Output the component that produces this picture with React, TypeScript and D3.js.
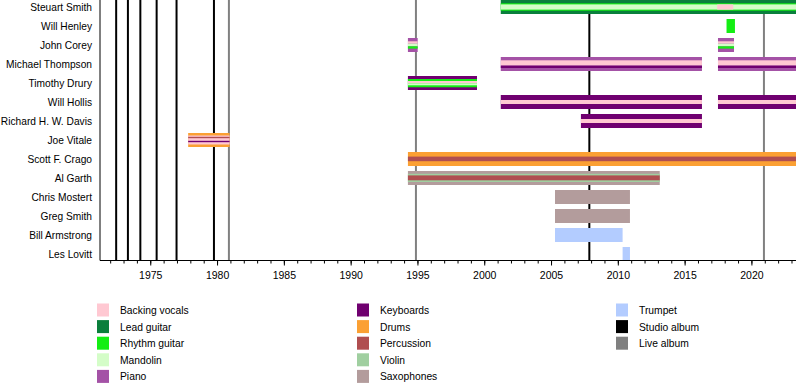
import React from "react";
import * as d3 from "d3";

// Band members, top to bottom
const members = [
  "Steuart Smith",
  "Will Henley",
  "John Corey",
  "Michael Thompson",
  "Timothy Drury",
  "Will Hollis",
  "Richard H. W. Davis",
  "Joe Vitale",
  "Scott F. Crago",
  "Al Garth",
  "Chris Mostert",
  "Greg Smith",
  "Bill Armstrong",
  "Les Lovitt",
];

const START = 1971.2;
const END = 2023.3;

// Touring periods (decimal years) and the roles played in each
const periods = [
  { name: "Steuart Smith", from: 2001.2, to: END, roles: ["Lead guitar", "Rhythm guitar", "Mandolin"] },
  { name: "Steuart Smith", from: 2017.4, to: 2018.6, roles: ["Backing vocals"] },
  { name: "Will Henley", from: 2018.1, to: 2018.73, roles: ["Rhythm guitar"] },
  { name: "John Corey", from: 1994.25, to: 1994.98, roles: ["Piano", "Backing vocals", "Mandolin", "Rhythm guitar"] },
  { name: "John Corey", from: 2017.46, to: 2018.66, roles: ["Piano", "Backing vocals", "Mandolin", "Rhythm guitar"] },
  { name: "Michael Thompson", from: 2001.2, to: 2016.26, roles: ["Piano", "Backing vocals", "Keyboards"] },
  { name: "Michael Thompson", from: 2017.46, to: END, roles: ["Piano", "Backing vocals", "Keyboards"] },
  { name: "Timothy Drury", from: 1994.25, to: 1999.42, roles: ["Keyboards", "Rhythm guitar", "Backing vocals", "Mandolin"] },
  { name: "Will Hollis", from: 2001.2, to: 2016.26, roles: ["Keyboards", "Backing vocals"] },
  { name: "Will Hollis", from: 2017.46, to: END, roles: ["Keyboards", "Backing vocals"] },
  { name: "Richard H. W. Davis", from: 2007.2, to: 2016.26, roles: ["Keyboards", "Backing vocals"] },
  { name: "Joe Vitale", from: 1977.8, to: 1980.9, roles: ["Drums", "Backing vocals", "Percussion", "Keyboards"] },
  { name: "Scott F. Crago", from: 1994.25, to: END, roles: ["Drums", "Percussion"] },
  { name: "Al Garth", from: 1994.25, to: 2013.1, roles: ["Saxophones", "Violin", "Percussion"] },
  { name: "Chris Mostert", from: 2005.26, to: 2010.87, roles: ["Saxophones"] },
  { name: "Greg Smith", from: 2005.26, to: 2010.87, roles: ["Saxophones"] },
  { name: "Bill Armstrong", from: 2005.26, to: 2010.32, roles: ["Trumpet"] },
  { name: "Les Lovitt", from: 2010.32, to: 2010.87, roles: ["Trumpet"] },
];

const studioAlbums = [1972.41, 1973.29, 1974.22, 1975.44, 1976.93, 1979.73, 2007.83];
const liveAlbums = [1980.85, 1994.85, 2020.9];

const majorTicks = [1975, 1980, 1985, 1990, 1995, 2000, 2005, 2010, 2015, 2020];
const minorTicks = d3.range(1972, 2024);

const legendItems = [
  "Backing vocals",
  "Lead guitar",
  "Rhythm guitar",
  "Mandolin",
  "Piano",
  "Keyboards",
  "Drums",
  "Percussion",
  "Violin",
  "Saxophones",
  "Trumpet",
  "Studio album",
  "Live album",
];

const colors: Record<string, string> = {
  "Backing vocals": "#ffc8d2",
  "Lead guitar": "#0a7f3c",
  "Rhythm guitar": "#14ee14",
  Mandolin: "#d4fdc8",
  Piano: "#a452a6",
  Keyboards: "#700070",
  Drums: "#fba033",
  Percussion: "#b04e50",
  Violin: "#a0cfa0",
  Saxophones: "#b39c9c",
  Trumpet: "#b3ccff",
  "Studio album": "#000000",
  "Live album": "#808080",
};

// stripe bands (px from row centre) for each role, per member
const layers: Record<string, [string, number, number][]> = {
  "Steuart Smith": [["Lead guitar", -7, 7], ["Rhythm guitar", -3.7, 3.7], ["Mandolin", -2.6, 2.6], ["Backing vocals", -2.6, 2.6]],
  "Will Henley": [["Rhythm guitar", -7, 7]],
  "John Corey": [["Piano", -7, 7], ["Backing vocals", -3.7, -1.4], ["Mandolin", -1.4, 1.3], ["Rhythm guitar", 1.3, 3.6]],
  "Michael Thompson": [["Piano", -7, 7], ["Backing vocals", -3.7, 1.6], ["Keyboards", 1.6, 4]],
  "Timothy Drury": [["Keyboards", -7, 7], ["Rhythm guitar", -4, 4.3], ["Backing vocals", -2, 0.3], ["Mandolin", 0.3, 2.3]],
  "Will Hollis": [["Keyboards", -7, 7], ["Backing vocals", -2, 2]],
  "Richard H. W. Davis": [["Keyboards", -7, 7], ["Backing vocals", -2, 2]],
  "Joe Vitale": [["Drums", -7, 7], ["Backing vocals", -4.5, 4.5], ["Percussion", -3.2, -1.8], ["Keyboards", 0.8, 2.2]],
  "Scott F. Crago": [["Drums", -7, 7], ["Percussion", -2.4, 2.2]],
  "Al Garth": [["Saxophones", -7, 7], ["Violin", -4.2, 4], ["Percussion", -2.6, 2.3]],
  "Chris Mostert": [["Saxophones", -7, 7]],
  "Greg Smith": [["Saxophones", -7, 7]],
  "Bill Armstrong": [["Trumpet", -7, 7]],
  "Les Lovitt": [["Trumpet", -7, 7]],
};

const width = 800;
const height = 385;
const left = 100;
const right = 796;
const axisY = 260.5;
const font = "'Liberation Sans', Arial, Helvetica, sans-serif";

const App: React.FC = () => {
  const x = d3.scaleLinear().domain([START, END]).range([left, right]);
  const y = d3.scalePoint<string>().domain(members).range([7, 254]);

  return (
    <svg
      width={width}
      height={height}
      style={{ position: "absolute", left: 0, top: 0, background: "#fff" }}
      fontFamily={font}
    >
      {/* album lines (behind bars) */}
      {studioAlbums.map((d, i) => (
        <line key={"s" + i} x1={x(d)} x2={x(d)} y1={0} y2={axisY} stroke={colors["Studio album"]} strokeWidth={2} />
      ))}
      {liveAlbums.map((d, i) => (
        <line key={"l" + i} x1={x(d)} x2={x(d)} y1={0} y2={axisY} stroke={colors["Live album"]} strokeWidth={2} />
      ))}

      {/* member bars */}
      {periods.map((p, i) => {
        const cy = y(p.name) ?? 0;
        return (
          <g key={"p" + i}>
            {layers[p.name]
              .filter(([role]) => p.roles.includes(role))
              .map(([role, y0, y1]) => (
                <rect
                  key={role}
                  x={x(p.from)}
                  y={cy + y0}
                  width={x(p.to) - x(p.from)}
                  height={y1 - y0}
                  fill={colors[role]}
                />
              ))}
          </g>
        );
      })}

      {/* member names */}
      {members.map((m) => (
        <text key={m} x={92} y={(y(m) ?? 0) + 0.5} textAnchor="end" dominantBaseline="central" fontSize={10.2} fill="#000">
          {m}
        </text>
      ))}

      {/* axes */}
      <line x1={left} x2={left} y1={0} y2={axisY} stroke="#000" strokeWidth={1} />
      <line x1={left} x2={right} y1={axisY} y2={axisY} stroke="#000" strokeWidth={1} />
      {minorTicks.map((t) => (
        <line key={"m" + t} x1={x(t)} x2={x(t)} y1={axisY} y2={axisY + 3} stroke="#000" strokeWidth={1} />
      ))}
      {majorTicks.map((t) => (
        <g key={"t" + t}>
          <line x1={x(t)} x2={x(t)} y1={axisY} y2={axisY + 5} stroke="#000" strokeWidth={1} />
          <text x={x(t)} y={279} textAnchor="middle" fontSize={10.5} fill="#000">
            {t}
          </text>
        </g>
      ))}

      {/* legend */}
      {legendItems.map((item, i) => {
        const col = Math.floor(i / 5);
        const row = i % 5;
        const lx = [97, 357, 616][col];
        const ly = 310 + row * 16.6;
        return (
          <g key={item}>
            <rect x={lx} y={ly - 6.5} width={12} height={13} fill={colors[item]} />
            <text x={lx + 23} y={ly + 0.5} dominantBaseline="central" fontSize={10.3} fill="#000">
              {item}
            </text>
          </g>
        );
      })}
    </svg>
  );
};

export default App;
